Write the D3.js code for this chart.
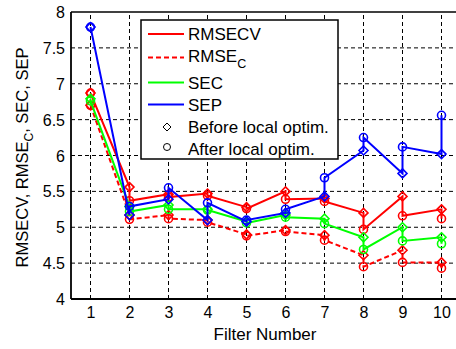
<!DOCTYPE html>
<html><head><meta charset="utf-8">
<script src="https://cdn.jsdelivr.net/npm/d3@7"></script>
<style>body{margin:0;background:#fff}svg{display:block;font-family:"Liberation Sans",Arial,sans-serif}</style>
</head><body><svg id="c" width="456" height="349"></svg>
<script>
const filters = [1,2,3,4,5,6,7,8,9,10];
const rmsecvBefore = [6.87,5.56,5.46,5.47,5.28,5.50,5.40,5.20,5.43,5.25];
const rmsecvAfter  = [6.87,5.37,5.42,5.44,5.26,5.39,5.36,4.97,5.16,5.12];
const rmsecBefore  = [6.70,5.17,5.17,5.10,4.90,4.96,4.89,4.61,4.68,4.51];
const rmsecAfter   = [6.70,5.11,5.12,5.07,4.88,4.94,4.82,4.45,4.51,4.43];
const secBefore    = [6.79,5.29,5.31,5.25,5.08,5.17,5.12,4.86,5.00,4.86];
const secAfter     = [6.76,5.22,5.25,5.24,5.06,5.14,5.05,4.69,4.81,4.77];
const sepBefore    = [7.79,5.17,5.39,5.10,5.08,5.20,5.43,6.07,5.75,6.02];
const sepAfter     = [7.79,5.29,5.55,5.34,5.10,5.25,5.69,6.25,6.12,6.56];
const yTicks = [4,4.5,5,5.5,6,6.5,7,7.5,8];
const xTicks = filters;

const svg = d3.select("#c");
const x = d3.scaleLinear().domain([0.5,10.5]).range([71,461]);
const y = d3.scaleLinear().domain([4,8]).range([299,12]);

// grid
const g = svg.append("g");
g.selectAll("line.gx").data(xTicks).join("line")
 .attr("x1",d=>x(d)).attr("x2",d=>x(d)).attr("y1",y(4)).attr("y2",y(8))
 .attr("stroke","#000").attr("stroke-width",1).attr("stroke-dasharray","4,3");
g.selectAll("line.gy").data(yTicks.slice(1,-1)).join("line")
 .attr("x1",x(0.5)).attr("x2",456).attr("y1",d=>y(d)).attr("y2",d=>y(d))
 .attr("stroke","#000").attr("stroke-width",1).attr("stroke-dasharray","4,3");

// axes
const xAxis = d3.axisBottom(x).tickValues(xTicks).tickSize(0).tickPadding(8).tickFormat(d3.format("d"));
const yAxis = d3.axisLeft(y).tickValues(yTicks).tickSize(0).tickPadding(6).tickFormat(d=>String(d));
const xa = svg.append("g").attr("transform",`translate(0,${y(4)})`).call(xAxis);
const ya = svg.append("g").attr("transform",`translate(${x(0.5)},0)`).call(yAxis);
[xa,ya].forEach(a=>{a.select(".domain").remove();a.selectAll("text").attr("font-size",16).attr("fill","#000").attr("font-family","Liberation Sans, Arial, sans-serif");});
ya.selectAll("text").attr("dy","0.35em");

// data lines
function seq(b,a){const out=[];filters.forEach((f,i)=>{out.push([f,b[i]]);out.push([f,a[i]]);});return out;}
const series = [
 {b:rmsecvBefore,a:rmsecvAfter,c:"#ff0000",dash:null},
 {b:rmsecBefore,a:rmsecAfter,c:"#ff0000",dash:"5,3"},
 {b:secBefore,a:secAfter,c:"#00ff00",dash:null},
 {b:sepBefore,a:sepAfter,c:"#0000ff",dash:null}
];
const line = d3.line().x(d=>x(d[0])).y(d=>y(d[1]));
const diamond = (cx,cy,r)=>`M${cx},${cy-r}L${cx+r},${cy}L${cx},${cy+r}L${cx-r},${cy}Z`;
series.forEach(s=>{
  const gs = svg.append("g");
  gs.append("path").attr("d",line(seq(s.b,s.a))).attr("fill","none").attr("stroke",s.c)
    .attr("stroke-width",2).attr("stroke-dasharray",s.dash);
  gs.selectAll("path.dm").data(filters.map((f,i)=>[f,s.b[i]])).join("path")
    .attr("d",d=>diamond(x(d[0]),y(d[1]),4.5)).attr("fill","none").attr("stroke",s.c).attr("stroke-width",1.6);
  gs.selectAll("circle").data(filters.map((f,i)=>[f,s.a[i]])).join("circle")
    .attr("cx",d=>x(d[0])).attr("cy",d=>y(d[1])).attr("r",4).attr("fill","none").attr("stroke",s.c).attr("stroke-width",1.6);
});

// frame
svg.append("line").attr("x1",x(0.5)).attr("x2",456).attr("y1",y(8)).attr("y2",y(8)).attr("stroke","#000").attr("stroke-width",1.5);
svg.append("line").attr("x1",x(0.5)).attr("x2",456).attr("y1",y(4)).attr("y2",y(4)).attr("stroke","#000").attr("stroke-width",1.8);
svg.append("line").attr("x1",x(0.5)).attr("x2",x(0.5)).attr("y1",y(8)).attr("y2",y(4)).attr("stroke","#000").attr("stroke-width",1.8);

// axis labels
svg.append("text").attr("x",265).attr("y",340).attr("text-anchor","middle")
  .attr("font-size",17).text("Filter Number");
const yl = svg.append("text").attr("transform",`translate(28,${(y(4)+y(8))/2+2}) rotate(-90)`)
  .attr("text-anchor","middle").attr("font-size",16.5);
yl.append("tspan").text("RMSECV, RMSE");
yl.append("tspan").attr("dy",5).attr("font-size",12).text("C");
yl.append("tspan").attr("dy",-5).text(", SEC, SEP");

// legend
const lg = svg.append("g");
lg.append("rect").attr("x",141).attr("y",20).attr("width",197).attr("height",139)
  .attr("fill","#fff").attr("stroke","#000").attr("stroke-width",1.5);
const legendItems = [
 {t:"RMSECV",ly:34,ty:40,c:"#ff0000",dash:null},
 {t:"RMSE",sub:"C",ly:57.5,ty:61.5,c:"#ff0000",dash:"5,3"},
 {t:"SEC",ly:82.5,ty:89,c:"#00ff00",dash:null},
 {t:"SEP",ly:104.5,ty:111,c:"#0000ff",dash:null}
];
legendItems.forEach(d=>{
  lg.append("line").attr("x1",148).attr("x2",184).attr("y1",d.ly).attr("y2",d.ly)
    .attr("stroke",d.c).attr("stroke-width",2).attr("stroke-dasharray",d.dash);
  const t = lg.append("text").attr("x",188).attr("y",d.ty).attr("font-size",17);
  t.append("tspan").text(d.t);
  if(d.sub) t.append("tspan").attr("dy",6).attr("font-size",12.5).text(d.sub);
});
lg.append("path").attr("d",diamond(167,127,4)).attr("fill","none").attr("stroke","#000").attr("stroke-width",1);
lg.append("text").attr("x",188).attr("y",133).attr("font-size",17).text("Before local optim.");
lg.append("circle").attr("cx",167).attr("cy",147).attr("r",3.5).attr("fill","none").attr("stroke","#000").attr("stroke-width",1);
lg.append("text").attr("x",188).attr("y",154.5).attr("font-size",17).text("After local optim.");
</script></body></html>
